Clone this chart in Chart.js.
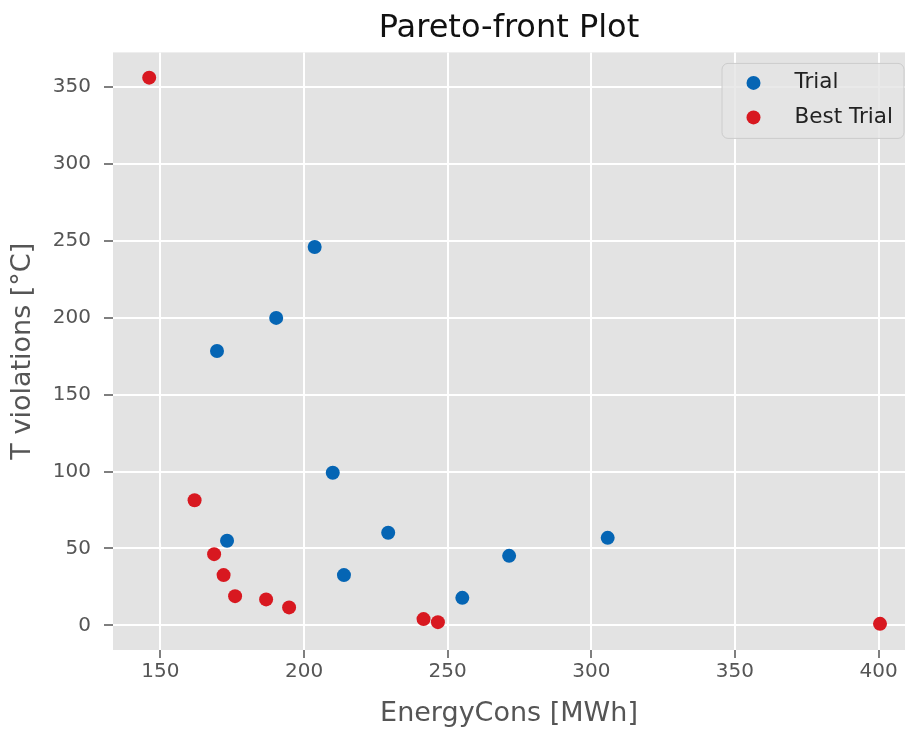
<!DOCTYPE html>
<html>
<head>
<meta charset="utf-8">
<script src="https://cdn.jsdelivr.net/npm/chart.js@4"></script>
<style>
  body { margin: 0; background: #fff; }
</style>
</head>
<body>
<canvas id="paretoChart" width="908" height="729"></canvas>
<script>
// valori
var trialEnergy = [203.7, 190.3, 169.7, 210.0, 229.3, 173.2, 213.9, 305.7, 271.4, 255.1];
var trialViol = [246.0, 199.9, 178.4, 99.2, 60.2, 55.0, 32.7, 56.9, 45.2, 17.9];
var bestEnergy = [146.1, 161.9, 168.7, 172.0, 176.0, 186.8, 194.8, 241.6, 246.6, 400.5];
var bestViol = [356.1, 81.4, 46.3, 32.7, 19.0, 16.9, 11.7, 4.1, 2.1, 1.0];
var seriesNames = ['Trial', 'Best Trial'];
var seriesColors = ['#0565b4', '#d81820'];
var xRange = [133.5, 409.2];
var yRange = [-16, 372.5];

function toPoints(xs, ys) {
    return xs.map(function (x, i) {
        return { x: x, y: ys[i] };
    });
}

var FONT = 'DejaVu Sans';

// sfondo grigio dell'area del grafico (stile ggplot)
var plotBackground = {
    id: 'plotBackground',
    beforeDraw: function (chart) {
        var a = chart.chartArea;
        var ctx = chart.ctx;
        ctx.save();
        ctx.fillStyle = '#e3e3e3';
        ctx.fillRect(a.left, a.top, a.right - a.left, a.bottom - a.top);
        ctx.restore();
    }
};

// legenda dentro l'area, in alto a destra, con riquadro arrotondato
var boxLegend = {
    id: 'boxLegend',
    afterDatasetsDraw: function (chart) {
        var ctx = chart.ctx;
        var a = chart.chartArea;
        var x0 = a.right - 183, y0 = a.top + 11, w = 182, h = 75;
        ctx.save();
        ctx.beginPath();
        ctx.roundRect(x0, y0, w, h, 6);
        ctx.fillStyle = 'rgba(227,227,227,0.8)';
        ctx.fill();
        ctx.strokeStyle = '#cccccc';
        ctx.lineWidth = 1;
        ctx.stroke();
        chart.data.datasets.forEach(function (ds, i) {
            var cy = y0 + 19.5 + i * 34.5;
            ctx.beginPath();
            ctx.arc(x0 + 31.5, cy, 7, 0, Math.PI * 2);
            ctx.fillStyle = ds.backgroundColor;
            ctx.fill();
            ctx.fillStyle = '#222';
            ctx.font = '21.5px "' + FONT + '"';
            ctx.textBaseline = 'middle';
            ctx.textAlign = 'left';
            ctx.fillText(ds.label, x0 + 72.5, cy);
        });
        ctx.restore();
    }
};

var ctx = document.getElementById('paretoChart').getContext('2d');
var paretoChart = new Chart(ctx, {
    type: 'scatter',
    data: {
        datasets: [{
            label: seriesNames[0],
            data: toPoints(trialEnergy, trialViol),
            backgroundColor: seriesColors[0],
            borderWidth: 0,
            pointRadius: 7,
            pointHoverRadius: 7
        }, {
            label: seriesNames[1],
            data: toPoints(bestEnergy, bestViol),
            backgroundColor: seriesColors[1],
            borderWidth: 0,
            pointRadius: 7,
            pointHoverRadius: 7
        }]
    },
    options: {
        responsive: false,
        animation: false,
        layout: { autoPadding: false, padding: { top: 0, right: 3, bottom: 0, left: 0 } },
        plugins: {
            legend: { display: false },
            tooltip: { enabled: false },
            title: {
                display: true,
                fullSize: false,
                text: 'Pareto-front Plot',
                color: '#111',
                font: { family: FONT, size: 32, weight: 'normal' },
                padding: { top: 9, bottom: 5 }
            }
        },
        scales: {
            x: {
                type: 'linear',
                min: xRange[0],
                max: xRange[1],
                border: { display: false },
                grid: { color: '#ffffff', lineWidth: 2, tickColor: '#555', tickLength: 8, tickWidth: 1.5 },
                ticks: {
                    stepSize: 50,
                    includeBounds: false,
                    color: '#555',
                    padding: 2,
                    maxRotation: 0,
                    font: { family: FONT, size: 20 }
                },
                title: {
                    display: true,
                    text: 'EnergyCons [MWh]',
                    color: '#555',
                    font: { family: FONT, size: 27, lineHeight: 1.1 },
                    padding: { top: 0, bottom: 0 }
                },
                afterFit: function (scale) {
                    scale.height = 79;
                    scale.paddingLeft = 0;
                    scale.paddingRight = 0;
                }
            },
            y: {
                type: 'linear',
                min: yRange[0],
                max: yRange[1],
                border: { display: false },
                grid: { color: '#ffffff', lineWidth: 2, tickColor: '#555', tickLength: 9, tickWidth: 1.5 },
                ticks: {
                    stepSize: 50,
                    includeBounds: false,
                    color: '#555',
                    padding: 13,
                    font: { family: FONT, size: 20 }
                },
                title: {
                    display: true,
                    text: 'T violations [°C]',
                    color: '#555',
                    font: { family: FONT, size: 27 },
                    padding: { top: 7, bottom: 0 }
                },
                afterFit: function (scale) {
                    scale.width = 113;
                    scale.paddingTop = 0;
                    scale.paddingBottom = 0;
                }
            }
        }
    },
    plugins: [plotBackground, boxLegend]
});
</script>
</body>
</html>
